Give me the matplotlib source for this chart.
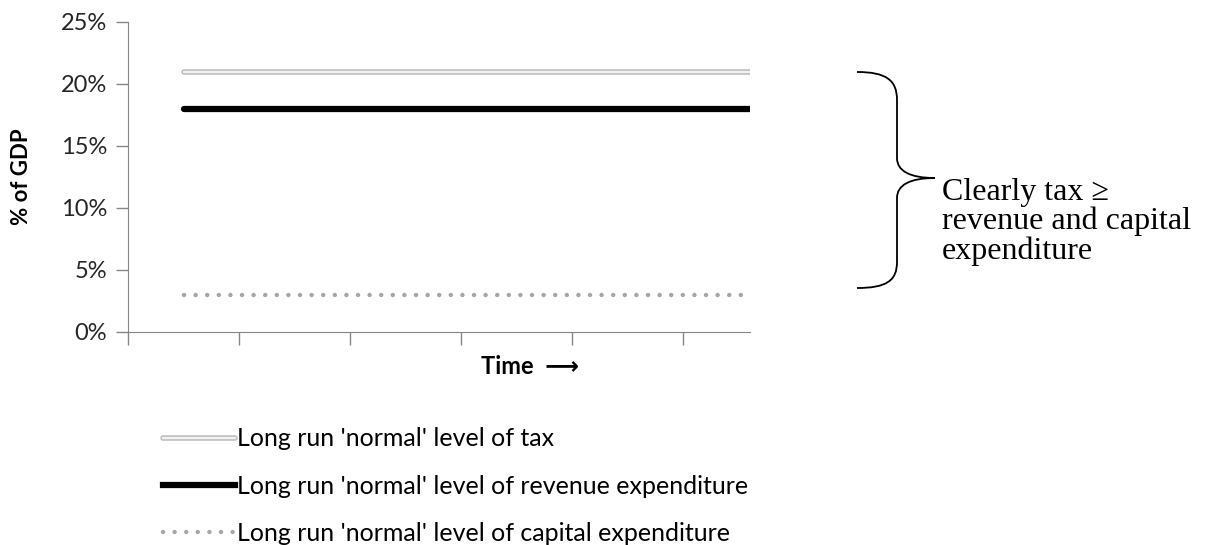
import matplotlib
matplotlib.use('Agg')
import matplotlib.pyplot as plt
from matplotlib.lines import Line2D
from matplotlib.legend_handler import HandlerTuple
from matplotlib.path import Path
from matplotlib.patches import PathPatch
import numpy as np

# long run levels, % of GDP, constant over time
periods = [0.5, 1.5, 2.5, 3.5, 4.5, 5.5, 6.5]
tax = [21, 21, 21, 21, 21, 21, 21]
revenue_exp = [18, 18, 18, 18, 18, 18, 18]
capital_exp = [3, 3, 3, 3, 3, 3, 3]

labels = ["Long run 'normal' level of tax",
          "Long run 'normal' level of revenue expenditure",
          "Long run 'normal' level of capital expenditure"]
yticks = [0, 5, 10, 15, 20, 25]

plt.rcParams['font.family'] = ['Lato', 'DejaVu Sans']
axis_grey = '#868686'
tax_edge = dict(color='#bdbdbd', lw=4.0, solid_capstyle='round')
tax_core = dict(color='#f2f2f2', lw=1.7, solid_capstyle='round')
dots = dict(color='#a6a6a6', lw=3.2, linestyle=(0, (0.01, 2.6)),
            dash_capstyle='round')

fig = plt.figure(figsize=(12.25, 5.45), dpi=100)
ax = fig.add_axes([0.1045, 0.391, 0.5075, 0.5688])

# tax line drawn as a grey outline with a light core
ax.plot(periods, tax, **tax_edge)
ax.plot(periods, tax, **tax_core)
ax.plot(periods, revenue_exp, color='black', lw=4.5, solid_capstyle='round')
ax.plot(periods, capital_exp, **dots)

ax.set_xlim(0, 5.6)
ax.set_ylim(0, 25)
ax.set_xticks(np.arange(0, 6))
ax.set_xticklabels([])
ax.set_yticks(yticks)
ax.set_yticklabels(['%d%%' % v for v in yticks], fontsize=17, color='#262626')
ax.tick_params(axis='both', color=axis_grey, length=9, width=1)
ax.tick_params(axis='y', pad=6)
for side in ['top', 'right']:
    ax.spines[side].set_visible(False)
for side in ['left', 'bottom']:
    ax.spines[side].set_color(axis_grey)

ax.set_ylabel('% of GDP', fontsize=16, fontweight='bold', va='center')
ax.yaxis.set_label_coords(-0.172, 0.5)
ax.set_xlabel('Time  \u27f6', fontsize=17, fontweight='bold')
ax.xaxis.set_label_coords(0.646, -0.075)
ax.xaxis.label.set_va('top')

# legend below the plot
h_tax = (Line2D([], [], **tax_edge), Line2D([], [], **tax_core))
h_rev = Line2D([], [], color='black', lw=4.5)
h_cap = Line2D([], [], **dots)
fig.legend([h_tax, h_rev, h_cap], labels,
           handler_map={tuple: HandlerTuple(ndivide=1, pad=0)},
           loc='upper left', bbox_to_anchor=(0.133, 0.216),
           frameon=False, fontsize=18, handlelength=2.9, handletextpad=0.08,
           labelspacing=0.97, borderaxespad=0, borderpad=0)

# curly brace with the note beside it
over = fig.add_axes([0, 0, 1, 1])
over.set_xlim(0, 1225)
over.set_ylim(545, 0)
over.axis('off')
verts = [(857, 72), (886, 72), (897, 80), (897, 100),
         (897, 158),
         (897, 171), (910, 178), (935, 178),
         (910, 178), (897, 185), (897, 198),
         (897, 262),
         (897, 281), (886, 288), (857, 288)]
codes = [Path.MOVETO, Path.CURVE4, Path.CURVE4, Path.CURVE4,
         Path.LINETO,
         Path.CURVE4, Path.CURVE4, Path.CURVE4,
         Path.CURVE4, Path.CURVE4, Path.CURVE4,
         Path.LINETO,
         Path.CURVE4, Path.CURVE4, Path.CURVE4]
over.add_patch(PathPatch(Path(verts, codes), fill=False, lw=1.3, color='black'))
over.text(942, 222, 'Clearly tax \u2265\nrevenue and capital\nexpenditure',
          family=['Liberation Serif', 'DejaVu Serif'], fontsize=23,
          va='center', ha='left', linespacing=1.0)

fig.savefig('out.png', dpi=100)
